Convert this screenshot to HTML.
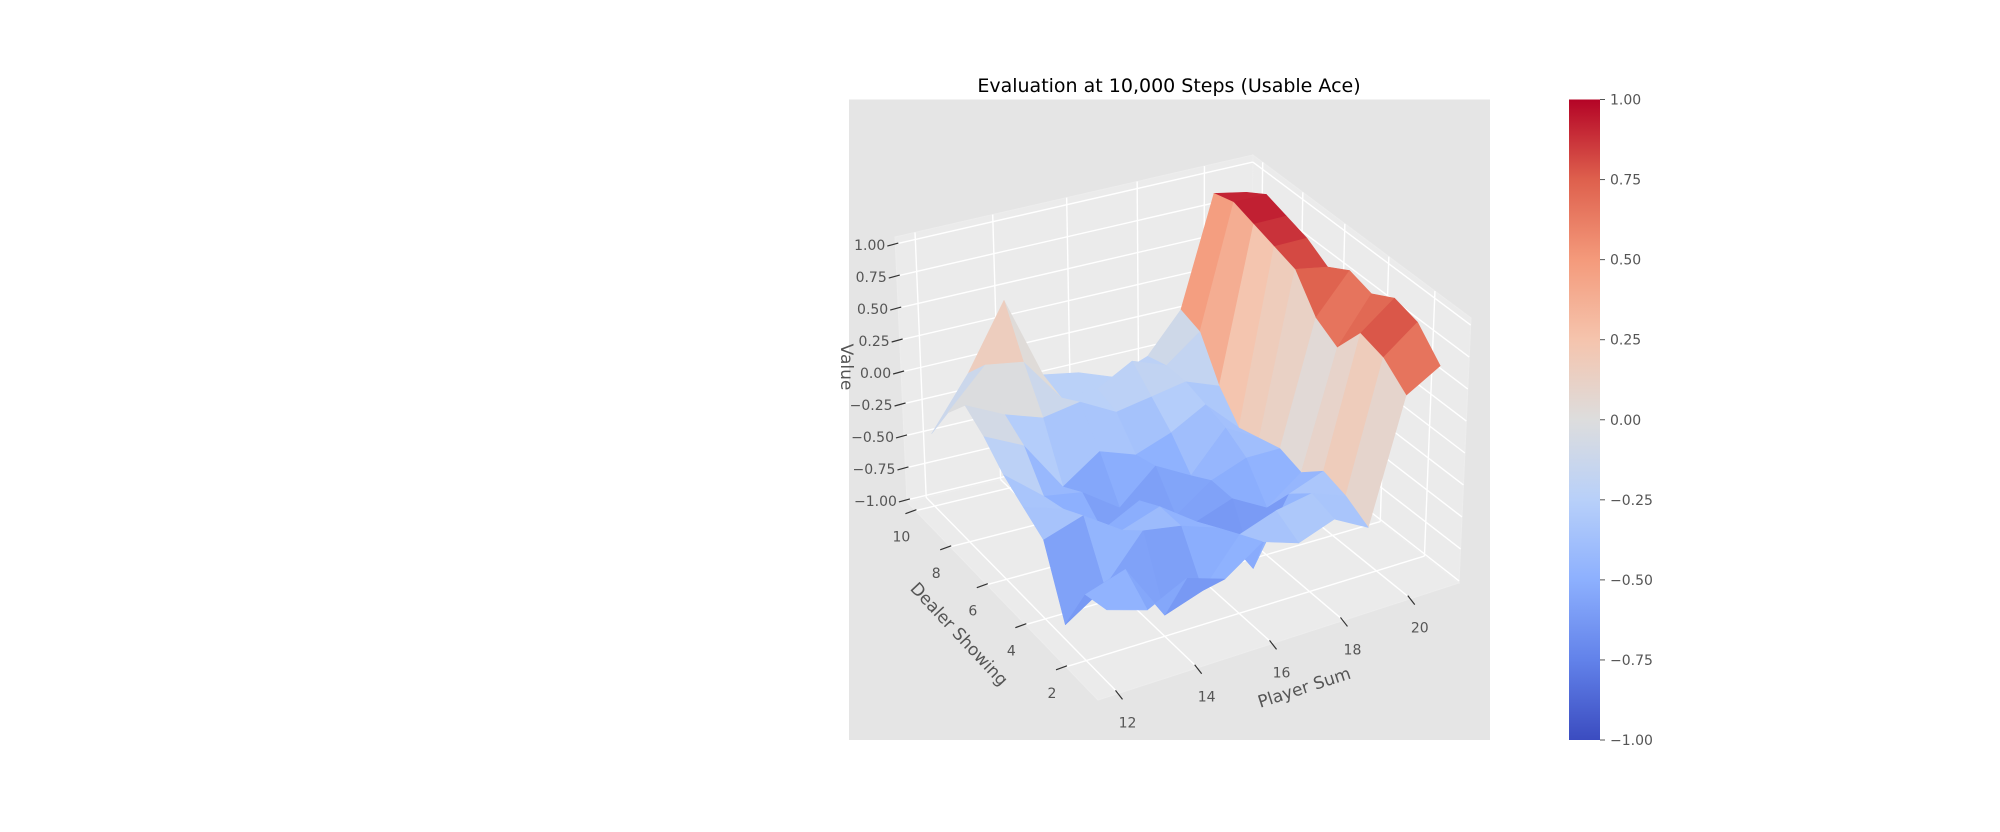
<!DOCTYPE html>
<html><head><meta charset="utf-8">
<style>
html,body{margin:0;padding:0;background:#fff;}
svg{display:block;font-family:"DejaVu Sans","Liberation Sans",sans-serif;}
</style></head>
<body>
<svg id="fig" width="2000" height="832" viewBox="0 0 2000 832" xmlns="http://www.w3.org/2000/svg">
<rect x="0" y="0" width="2000" height="832" fill="#ffffff"/>
<rect x="849" y="99.5" width="641" height="640.5" fill="#e5e5e5"/>
<text x="1169" y="92" font-size="19" text-anchor="middle" fill="#000">Evaluation at 10,000 Steps (Usable Ace)</text>
<g id="panes"></g>
<g id="grid"></g>
<g id="surface"></g>
<g id="ticks"></g>
<text x="0" y="0" font-size="17" fill="#555" text-anchor="middle" transform="translate(1306,693) rotate(-18)">Player Sum</text>
<text x="0" y="0" font-size="17" fill="#555" text-anchor="middle" transform="translate(955,638) rotate(47)">Dealer Showing</text>
<text x="0" y="0" font-size="17" fill="#555" text-anchor="middle" transform="translate(841,367) rotate(90)">Value</text>
<defs>
<linearGradient id="cbgrad" x1="0" y1="1" x2="0" y2="0">
<stop offset="0" stop-color="rgb(59,76,192)"/>
<stop offset="0.125" stop-color="rgb(98,130,234)"/>
<stop offset="0.25" stop-color="rgb(141,176,254)"/>
<stop offset="0.375" stop-color="rgb(184,208,249)"/>
<stop offset="0.5" stop-color="rgb(221,221,221)"/>
<stop offset="0.625" stop-color="rgb(245,196,173)"/>
<stop offset="0.75" stop-color="rgb(244,154,123)"/>
<stop offset="0.875" stop-color="rgb(222,96,77)"/>
<stop offset="1" stop-color="rgb(180,4,38)"/>
</linearGradient>
</defs>
<rect x="1569" y="99.5" width="31" height="640.5" fill="url(#cbgrad)"/>
<g id="cbticks"></g>
</svg>
<script>
// Data: rows = dealer showing 1..10, columns = player sum 12..21
const playerSums = [12,13,14,15,16,17,18,19,20,21];
const dealerCards = [1,2,3,4,5,6,7,8,9,10];
const valD1  = [-0.45,-0.55,-0.40,-0.50,-0.30,-0.40,-0.30,-0.45,0.50,0.65];
const valD2  = [-0.50,-0.40,-0.85,-0.75,-0.40,-0.30,-0.25,-0.35,0.65,0.85];
const valD3  = [-0.90,-0.70,-0.35,-0.40,-0.50,-0.90,-0.40,-0.30,0.70,0.90];
const valD4  = [-0.40,-0.30,-0.50,-0.40,-0.60,-0.50,-0.65,-0.45,0.45,0.80];
const valD5  = [-0.30,-0.40,-0.65,-0.50,-0.70,-0.50,-0.40,-0.40,0.55,0.85];
const valD6  = [-0.20,-0.45,-0.50,-0.70,-0.45,-0.60,-0.30,-0.45,0.80,0.75];
const valD7  = [-0.05,-0.20,-0.60,-0.40,-0.50,-0.40,-0.25,-0.50,0.85,0.85];
const valD8  = [0.05,-0.10,-0.20,-0.15,-0.30,-0.25,-0.20,-0.30,0.90,0.90];
const valD9  = [-0.15,0.15,0.10,-0.25,-0.25,-0.10,-0.20,0.00,0.95,0.95];
const valD10 = [-0.45,-0.05,0.45,-0.20,-0.25,-0.35,-0.25,0.05,0.90,0.85];
const values = [valD1,valD2,valD3,valD4,valD5,valD6,valD7,valD8,valD9,valD10];
const playerTicks = [12,14,16,18,20];
const dealerTicks = [2,4,6,8,10];
const valueTicks = [-1,-0.75,-0.5,-0.25,0,0.25,0.5,0.75,1];
const valueTickLabels = ["\u22121.00","\u22120.75","\u22120.50","\u22120.25","0.00","0.25","0.50","0.75","1.00"];
const cbTicks = [-1,-0.75,-0.5,-0.25,0,0.25,0.5,0.75,1];

const NS="http://www.w3.org/2000/svg";
const pMin=11.5,pMax=21.5,dMin=0.5,dMax=10.5,zMin=-1.016,zMax=1.055;
const Fc=[1098,700],Rc=[1459,583],Bc=[1250,420],Lc=[907,502];
const x0=Fc[0],y0=Fc[1],x1=Rc[0],y1=Rc[1],x2=Bc[0],y2=Bc[1],x3=Lc[0],y3=Lc[1];
const dx1=x1-x2,dx2=x3-x2,dx3=x0-x1+x2-x3,dy1=y1-y2,dy2=y3-y2,dy3=y0-y1+y2-y3;
const den=dx1*dy2-dx2*dy1;
const G=(dx3*dy2-dx2*dy3)/den,Hh=(dx1*dy3-dx3*dy1)/den;
const A=x1-x0+G*x1,Bq=x3-x0+Hh*x3,D=y1-y0+G*y1,E=y3-y0+Hh*y3;
const HZ=265;
function proj(p,d,z){
  const u=(p-pMin)/(pMax-pMin), v=(d-dMin)/(dMax-dMin);
  const w=G*u+Hh*v+1;
  const x=(A*u+Bq*v+x0)/w, y=(D*u+E*v+y0)/w;
  const f=(z-zMin)/(zMax-zMin);
  return [x+0.0435*(x-1183)*f, y-HZ*f];
}
function cmap(t){
  const st=[[59,76,192],[98,130,234],[141,176,254],[184,208,249],[221,221,221],[245,196,173],[244,154,123],[222,96,77],[180,4,38]];
  t=Math.max(0,Math.min(1,t))*8; const i=Math.min(7,Math.floor(t)), f=t-i;
  const a=st[i],b=st[i+1];
  return `rgb(${Math.round(a[0]+(b[0]-a[0])*f)},${Math.round(a[1]+(b[1]-a[1])*f)},${Math.round(a[2]+(b[2]-a[2])*f)})`;
}
function pts(a){return a.map(q=>q[0].toFixed(1)+","+q[1].toFixed(1)).join(" ");}
function line(g,a,b,stroke,w){
  const l=document.createElementNS(NS,"line");
  l.setAttribute("x1",a[0]);l.setAttribute("y1",a[1]);l.setAttribute("x2",b[0]);l.setAttribute("y2",b[1]);
  l.setAttribute("stroke",stroke);l.setAttribute("stroke-width",w);
  g.appendChild(l);return l;
}
function txt(g,x,y,s,anchor,size,fill){
  const t=document.createElementNS(NS,"text");
  t.setAttribute("x",x);t.setAttribute("y",y);t.setAttribute("text-anchor",anchor);
  t.setAttribute("font-size",size);t.setAttribute("fill",fill);t.textContent=s;g.appendChild(t);return t;
}
const panes=document.getElementById("panes");
function pane(arr,name){
  const p=document.createElementNS(NS,"polygon");
  p.setAttribute("points",pts(arr));p.setAttribute("fill","#ebebeb");
  p.setAttribute("stroke","#ededed");p.setAttribute("stroke-width","1");
  
  
  panes.appendChild(p);
}
pane([proj(pMin,dMin,zMin),proj(pMax,dMin,zMin),proj(pMax,dMax,zMin),proj(pMin,dMax,zMin)],"floor-pane");
pane([proj(pMin,dMax,zMin),proj(pMax,dMax,zMin),proj(pMax,dMax,zMax),proj(pMin,dMax,zMax)],"back-pane");
pane([proj(pMax,dMin,zMin),proj(pMax,dMax,zMin),proj(pMax,dMax,zMax),proj(pMax,dMin,zMax)],"side-pane");
const grid=document.getElementById("grid");
playerTicks.forEach(p=>{
  let l=line(grid,proj(p,dMin,zMin),proj(p,dMax,zMin),"#fff",1.4);
  
  
  l=line(grid,proj(p,dMax,zMin),proj(p,dMax,zMax),"#fff",1.4);
  
  
});
dealerTicks.forEach(d=>{
  let l=line(grid,proj(pMin,d,zMin),proj(pMax,d,zMin),"#fff",1.4);
  
  
  l=line(grid,proj(pMax,d,zMin),proj(pMax,d,zMax),"#fff",1.4);
  
  
});
valueTicks.forEach(z=>{
  let l=line(grid,proj(pMin,dMax,z),proj(pMax,dMax,z),"#fff",1.4);
  
  
  l=line(grid,proj(pMax,dMax,z),proj(pMax,dMin,z),"#fff",1.4);
  
  
});
const faces=[];
for(let i=0;i<dealerCards.length-1;i++){
  for(let j=0;j<playerSums.length-1;j++){
    const c=[[j,i],[j+1,i],[j+1,i+1],[j,i+1]];
    const P=c.map(([a,b])=>proj(playerSums[a],dealerCards[b],values[b][a]));
    const zavg=(values[i][j]+values[i][j+1]+values[i+1][j]+values[i+1][j+1])/4;
    const u=((playerSums[j]+playerSums[j+1])/2-pMin)/(pMax-pMin);
    const v=((dealerCards[i]+dealerCards[i+1])/2-dMin)/(dMax-dMin);
    faces.push({P,zavg,depth:u+v-0.3*(zavg-zMin)/(zMax-zMin)});
  }
}
faces.sort((a,b)=>b.depth-a.depth);
const surf=document.getElementById("surface");
faces.forEach(f=>{
  const p=document.createElementNS(NS,"polygon");
  const col=cmap((f.zavg+1)/2);
  p.setAttribute("points",pts(f.P));p.setAttribute("fill",col);
  p.setAttribute("stroke",col);p.setAttribute("stroke-width","0.6");p.setAttribute("stroke-linejoin","round");
  
  
  surf.appendChild(p);
});
const tk=document.getElementById("ticks");
playerTicks.forEach(p=>{
  const a=proj(p,dMin,zMin);
  let l=line(tk,[a[0]-3,a[1]-3],[a[0]+4,a[1]+6],"#333",1.2);
  
  
  const t=txt(tk,a[0]+9,a[1]+34,String(p),"middle",14,"#555");
  
  
});
dealerTicks.forEach(d=>{
  const a=proj(pMin,d,zMin);
  let l=line(tk,[a[0]+1,a[1]-1],[a[0]-10,a[1]+3],"#333",1.2);
  
  
  const t=txt(tk,a[0]-14,a[1]+31,String(d),"middle",14,"#555");
  
  
});
valueTicks.forEach((z,k)=>{
  const a=proj(pMin,dMax,z);
  let l=line(tk,[a[0]+3,a[1]-1],[a[0]-8,a[1]+2],"#333",1.2);
  
  
  const t=txt(tk,a[0]-10,a[1]+6,valueTickLabels[k],"end",14,"#555");
  
  
});
const cb=document.getElementById("cbticks");
cbTicks.forEach(v=>{
  const y=740-(v+1)/2*640.5;
  let l=line(cb,[1600,y],[1605,y],"#555",1);
  
  
  const t=txt(cb,1610,y+5,(v<0?"\u2212":"")+Math.abs(v).toFixed(2),"start",14,"#555");
  
  
});
</script>
</body></html>
